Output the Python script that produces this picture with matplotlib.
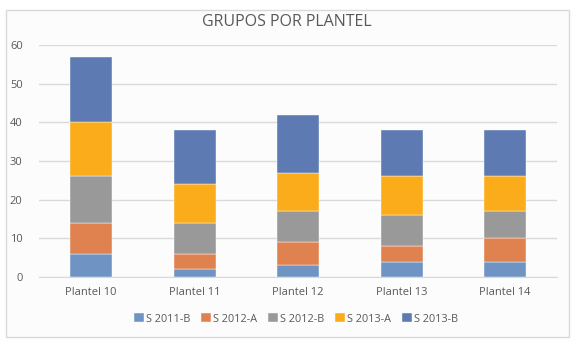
import matplotlib
matplotlib.use("Agg")
import matplotlib.pyplot as plt
import matplotlib.patches as mpatches
import numpy as np

plt.rcParams['font.family'] = ['Open Sans', 'DejaVu Sans']

planteles = ["Plantel 10", "Plantel 11", "Plantel 12", "Plantel 13", "Plantel 14"]
series_names = ["S 2011-B", "S 2012-A", "S 2012-B", "S 2013-A", "S 2013-B"]

s_2011_b = [6, 2, 3, 4, 4]
s_2012_a = [8, 4, 6, 4, 6]
s_2012_b = [12, 8, 8, 8, 7]
s_2013_a = [14, 10, 10, 10, 9]
s_2013_b = [17, 14, 15, 12, 12]

series_vals = [s_2011_b, s_2012_a, s_2012_b, s_2013_a, s_2013_b]
colors = ['#6F93C2', '#E0824F', '#999999', '#FBAC1A', '#5D7AB3']

TXT = '#595959'
GRID = '#D9D9D9'

fig = plt.figure(figsize=(5.77, 3.45), dpi=100, facecolor='white')

# chart frame (behind everything)
frame = mpatches.Rectangle((6 / 577, 1 - 337 / 345), 563 / 577, 327 / 345,
                           transform=fig.transFigure, facecolor='#FCFCFC',
                           edgecolor=GRID, linewidth=1.0, zorder=-10)
fig.patches.append(frame)

ax = fig.add_axes([39.3 / 577, 68 / 345, 517.5 / 577, 232 / 345], zorder=2)
ax.set_facecolor('none')

x = np.arange(len(planteles))
bottom = np.zeros(len(planteles))
handles = []
for name, vals, col in zip(series_names, series_vals, colors):
    b = ax.bar(x, vals, 0.405, bottom=bottom, color=col, label=name,
               edgecolor='white', linewidth=0.3, zorder=3)
    handles.append(b)
    bottom += np.array(vals)

ax.set_xlim(-0.5, len(planteles) - 0.5)
ax.set_ylim(0, 60)
ax.set_yticks(range(0, 61, 10))
ax.set_xticks(x)
ax.set_xticklabels(planteles)
ax.grid(axis='y', color=GRID, linewidth=1.0, zorder=0)
ax.set_axisbelow(True)
ax.tick_params(length=0, colors=TXT, labelsize=8)
ax.tick_params(axis='x', pad=7)
ax.tick_params(axis='y', pad=12)
for sp in ['top', 'right', 'left']:
    ax.spines[sp].set_visible(False)
ax.spines['bottom'].set_color(GRID)

fig.text(287 / 577, 1 - 22 / 345, "GRUPOS POR PLANTEL", ha='center', va='center',
         fontsize=11.5, color=TXT, fontweight='medium', zorder=3)

leg = fig.legend(handles=handles, loc='center', bbox_to_anchor=(296 / 577, 1 - 319 / 345),
                 ncol=5, frameon=False, fontsize=7.8, handlelength=0.9, handleheight=0.9,
                 handletextpad=0.2, columnspacing=1.0)
leg.set_zorder(3)
for t in leg.get_texts():
    t.set_color(TXT)

fig.savefig("out.png", dpi=100, facecolor='white')
